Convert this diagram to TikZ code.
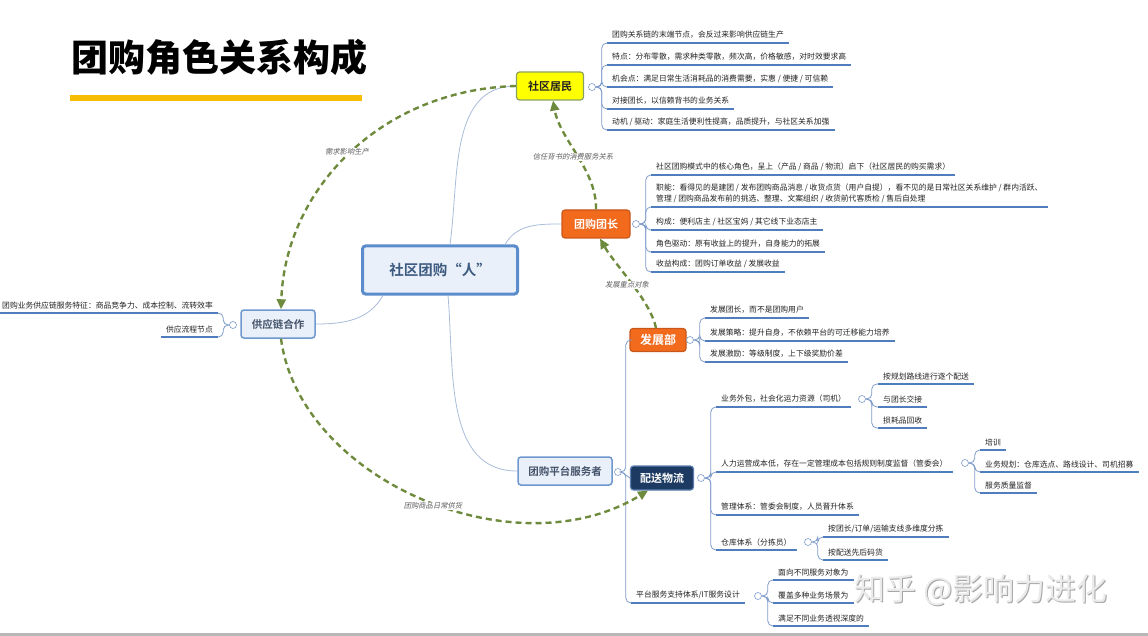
\documentclass[tikz,border=0pt]{standalone}
\usepackage{fontspec}
\setmainfont{Noto Sans CJK SC}[BoldFont={Noto Sans CJK SC Bold}]
\newfontfamily\slantcjk{Noto Sans CJK SC}[FakeSlant=0.2]
\newfontfamily\heavycjk{Noto Sans CJK SC Black}
\usetikzlibrary{arrows.meta}

\definecolor{baryellow}{HTML}{F6BE00}
\definecolor{hubline}{HTML}{5B8CCB}
\definecolor{hubfill}{HTML}{EAF0F9}
\definecolor{hubtext}{HTML}{3D5A80}
\definecolor{topicline}{HTML}{6E98CE}
\definecolor{topictext}{HTML}{44536A}
\definecolor{resfill}{HTML}{FFFF00}
\definecolor{resline}{HTML}{8AA060}
\definecolor{orfill}{HTML}{F26B1D}
\definecolor{orline}{HTML}{C9561A}
\definecolor{navyfill}{HTML}{1D3A63}
\definecolor{navyline}{HTML}{5C7FAE}
\definecolor{linkblue}{HTML}{A9BCD9}
\definecolor{trunkblue}{HTML}{7E9CCB}
\definecolor{ulineblue}{HTML}{4F7DBE}
\definecolor{leafgray}{HTML}{222222}
\definecolor{flowgreen}{HTML}{6E8B3D}
\definecolor{taggray}{HTML}{5F5F5F}

\tikzset{
  box/.style={draw, rounded corners=3pt, inner sep=0pt, align=center},
  hub/.style={box, draw=hubline, fill=hubfill, text=hubtext, line width=3pt,
    minimum width=155pt, minimum height=48pt, font=\bfseries\fontsize{14.5}{16}\selectfont},
  topic/.style={box, draw=topicline, fill=hubfill, text=topictext, line width=1.5pt,
    minimum height=28pt, font=\bfseries\fontsize{10.5}{12}\selectfont},
  resbox/.style={box, draw=resline, fill=resfill, text=leafgray, line width=1.2pt,
    minimum width=67pt, minimum height=28pt, font=\bfseries\fontsize{11}{13}\selectfont},
  orangebox/.style={box, draw=orline, fill=orfill, text=white, line width=1.2pt,
    minimum width=68pt, minimum height=28pt, font=\bfseries\fontsize{11}{13}\selectfont},
  navybox/.style={box, draw=navyline, fill=navyfill, text=white, line width=1.2pt,
    minimum width=63pt, minimum height=24pt, font=\bfseries\fontsize{11}{13}\selectfont},
  knob/.style={circle, draw=trunkblue, fill=white, inner sep=0pt, minimum size=7pt, line width=0.6pt},
  leaf/.style={anchor=south west, inner xsep=5pt, inner ysep=4pt, text=leafgray,
    font=\fontsize{7.8}{11}\selectfont},
  leafr/.style={leaf, anchor=south east},
  link/.style={draw=linkblue, line width=0.8pt},
  trunk/.style={draw=trunkblue, line width=0.8pt, rounded corners=5pt},
  uline/.style={draw=ulineblue, line width=1.6pt},
  flow/.style={draw=flowgreen, line width=2.4pt, dash pattern=on 6pt off 4pt,
    -{Triangle[length=10pt,width=9pt]}},
  tag/.style={fill=white, inner sep=1pt, text=taggray, font=\slantcjk\fontsize{7.3}{9}\selectfont},
  wmark/.style={inner sep=0pt, font=\fontsize{31}{34}\selectfont}
}

\newcommand{\twig}[2]{
  \draw [trunk] (#1.east) -- ++(6,0) |- (#2.south west);
  \draw [uline] (#2.south west) -- (#2.south east)
}
\newcommand{\twigleft}[2]{
  \draw [trunk] (#1.west) -- ++(-6,0) |- (#2.south east);
  \draw [uline] (#2.south east) -- (#2.south west)
}

\begin{document}
\begin{tikzpicture}[x=1pt,y=1pt]
\useasboundingbox (0,0) rectangle (1148,-636);

% title
\node (title) [anchor=west, inner sep=0pt, font=\heavycjk\fontsize{37}{40}\selectfont] at (71,-57) {团购角色关系构成};
\fill [baryellow] (70,-95) rectangle (362,-101);

% root
\node (core) [hub] at (440,-270) {社区团购“人”};

% first level
\node (resident) [resbox] at (550,-86) {社区居民};
\node (leader) [orangebox] at (596,-224) {团购团长};
\node (supply) [topic, minimum width=74pt] at (278,-324) {供应链合作};
\node (platform) [topic, minimum width=94pt] at (565,-471) {团购平台服务者};

% kids of platform
\node (dept) [orangebox, minimum width=56pt, minimum height=23pt, font=\bfseries\fontsize{12}{14}\selectfont] at (658,-340) {发展部};
\node (logi) [navybox] at (662,-478) {配送物流};
\node (itsys) [leaf] at (631,-603) {平台服务支持体系/IT服务设计};

% knobs
\node (kRes) [knob] at (592,-87) {};
\node (kLead) [knob] at (636,-224) {};
\node (kSup) [knob] at (233,-325) {};
\node (kPlat) [knob] at (618,-472) {};
\node (kDept) [knob] at (690,-340) {};
\node (kLogi) [knob] at (701,-478) {};
\node (kOut) [knob] at (862,-399) {};
\node (kHum) [knob] at (965,-463) {};
\node (kWare) [knob] at (808,-542) {};
\node (kIt) [knob] at (758,-596) {};

% kids of resident
\node (r1) [leaf] at (607,-43) {团购关系链的末端节点，会反过来影响供应链生产};
\node (r2) [leaf] at (607,-65) {特点：分布零散，需求种类零散，频次高，价格敏感，对时效要求高};
\node (r3) [leaf] at (607,-87) {机会点：满足日常生活消耗品的消费需要，实惠 / 便捷 / 可信赖};
\node (r4) [leaf] at (607,-109) {对接团长，以信赖背书的业务关系};
\node (r5) [leaf] at (607,-130) {动机 / 驱动：家庭生活便利性提高，品质提升，与社区关系加强};

% kids of leader
\node (l1) [leaf] at (651,-175) {社区团购模式中的核心角色，呈上（产品 / 商品 / 物流）启下（社区居民的购买需求）};
\node (l2) [leaf, align=left] at (651,-207) {职能：看得见的是建团 / 发布团购商品消息 / 收货点货（用户自提），看不见的是日常社区关系维护 / 群内活跃、\\管理 / 团购商品发布前的挑选、整理、文案组织 / 收货前代客质检 / 售后自处理};
\node (l3) [leaf] at (651,-230) {构成：便利店主 / 社区宝妈 / 其它线下业态店主};
\node (l4) [leaf] at (651,-252) {角色驱动：原有收益上的提升，自身能力的拓展};
\node (l5) [leaf] at (651,-272) {收益构成：团购订单收益 / 发展收益};

% kids of supply
\node (s1) [leafr] at (218,-313) {团购业务供应链服务特征：商品竞争力、成本控制、流转效率};
\node (s2) [leafr] at (218,-337) {供应流程节点};

% kids of dept
\node (d1) [leaf] at (705,-318) {发展团长，而不是团购用户};
\node (d2) [leaf] at (705,-341) {发展策略：提升自身，不依赖平台的可迁移能力培养};
\node (d3) [leaf] at (705,-362) {发展激励：等级制度，上下级奖励价差};

% kids of logi
\node (g1) [leaf] at (716,-407) {业务外包，社会化运力资源（司机）};
\node (g2) [leaf] at (716,-472) {人力运营成本低，存在一定管理成本包括规则制度监督（管委会）};
\node (g3) [leaf] at (716,-515) {管理体系：管委会制度，人员晋升体系};
\node (g4) [leaf] at (716,-550) {仓库体系（分拣员）};

% kids of g1
\node (o1) [leaf] at (878,-384) {按规划路线进行逐个配送};
\node (o2) [leaf] at (878,-407) {与团长交接};
\node (o3) [leaf] at (878,-428) {损耗品回收};

% kids of g2
\node (h1) [leaf] at (980,-450) {培训};
\node (h2) [leaf] at (980,-472) {业务规划：仓库选点、路线设计、司机招募};
\node (h3) [leaf] at (980,-493) {服务质量监督};

% kids of g4
\node (w1) [leaf] at (823,-537) {按团长/订单/运输支线多维度分拣};
\node (w2) [leaf] at (823,-560) {按配送先后码货};

% kids of itsys
\node (i1) [leaf] at (773,-580) {面向不同服务对象为};
\node (i2) [leaf] at (773,-603) {覆盖多种业务场景为};
\node (i3) [leaf] at (773,-626) {满足不同业务透视深度的};

% connect root
\draw [link] ([xshift=10pt]core.north) to [out=82,in=180] (resident.west);
\draw [link] ([xshift=65pt]core.north) to [out=60,in=180] (leader.west);
\draw [link] ([xshift=-57pt]core.south) to [out=240,in=0] (supply.east);
\draw [link] ([xshift=8pt]core.south) to [out=-85,in=180] (platform.west);

% connect platform
\draw [trunk] (kPlat.east) -- ++(4,0) |- (dept.west);
\draw [trunk] (kPlat.east) -- (logi.west);
\draw [trunk] (kPlat.east) -- ++(4,0) |- (itsys.south west);
\draw [uline] (itsys.south west) -- (itsys.south east);

% connect resident
\twig{kRes}{r1}; \twig{kRes}{r2}; \twig{kRes}{r3}; \twig{kRes}{r4}; \twig{kRes}{r5};

% connect leader
\twig{kLead}{l1}; \twig{kLead}{l2}; \twig{kLead}{l3}; \twig{kLead}{l4}; \twig{kLead}{l5};

% connect supply
\twigleft{kSup}{s1}; \twigleft{kSup}{s2};

% connect dept
\twig{kDept}{d1}; \twig{kDept}{d2}; \twig{kDept}{d3};

% connect logi
\twig{kLogi}{g1}; \twig{kLogi}{g2}; \twig{kLogi}{g3}; \twig{kLogi}{g4};

% connect g1, g2, g4, itsys
\twig{kOut}{o1}; \twig{kOut}{o2}; \twig{kOut}{o3};
\twig{kHum}{h1}; \twig{kHum}{h2}; \twig{kHum}{h3};
\twig{kWare}{w1}; \twig{kWare}{w2};
\twig{kIt}{i1}; \twig{kIt}{i2}; \twig{kIt}{i3};

% relations
\draw [flow] (resident.west) .. controls (380,-90) and (285,-190) .. ([xshift=3pt]supply.north);
\draw [flow] (leader.north) .. controls (597,-170) and (560,-140) .. ([xshift=3pt]resident.south);
\draw [flow] ([xshift=-2pt]dept.north) .. controls (650,-300) and (615,-265) .. ([xshift=4pt]leader.south);
\draw [flow] ([xshift=3pt]supply.south) .. controls (300,-480) and (515,-572) .. ([xshift=-14pt]logi.south);

\node (tagA) [tag] at (347,-152) {需求影响生产};
\node (tagB) [tag] at (573,-157) {信任背书的消费服务关系};
\node (tagC) [tag] at (627,-285) {发展重点对象};
\node (tagD) [tag] at (433,-506) {团购商品日常供货};

% watermark and bottom rule
\node (shade) [wmark, text=black!35] at (982,-591) {知乎 @影响力进化};
\node (stamp) [wmark, text=black!8] at (981,-590) {知乎 @影响力进化};
\fill [black!28] (0,-633) rectangle (1148,-636);

\end{tikzpicture}
\end{document}
